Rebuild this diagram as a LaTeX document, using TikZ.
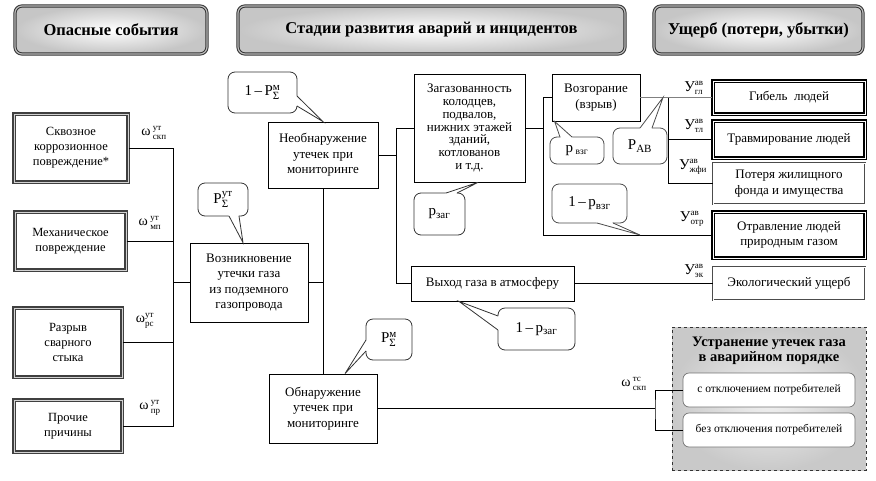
\documentclass[tikz,border=0pt]{standalone}
\usepackage{fontspec}
\setmainfont{Liberation Serif}
\usetikzlibrary{calc}
\newcommand{\supsub}[3][9]{\ensuremath{{}^{\mbox{\fontsize{#1}{#1}\selectfont #2}}_{\mbox{\fontsize{#1}{#1}\selectfont #3}}}}
\newcommand{\sbs}[2][11]{\ensuremath{{}_{\mbox{\fontsize{#1}{#1}\selectfont #2}}}}
\newcommand{\bubtip}[5][black!80]{%
  \fill[white] (#3) -- (#5) -- (#4) -- ($(#4)!1.6pt!(#2.center)$) -- ($(#3)!1.6pt!(#2.center)$) -- cycle;
  \draw[#1, line width=0.8pt] (#3) -- (#5) -- (#4);}
\tikzset{
  base/.style={align=center, inner sep=1pt, font=\fontsize{13}{15.5}\selectfont},
  pbox/.style={base, draw=black, line width=0.8pt, fill=white},
  lbox/.style={base, draw=black!75, line width=1.1pt, double=gray!35, double distance=1pt, fill=white, font=\fontsize{12.5}{15}\selectfont},
  hbox/.style={base, draw=black!80, line width=1pt, double=gray!55, double distance=1.2pt, rounded corners=7pt, inner color=white, outer color=gray!45, font=\fontsize{16.5}{19}\selectfont\bfseries},
  dthick/.style={base, draw=black, line width=1.6pt, double=white, double distance=0.9pt, fill=white},
  dthin/.style={base, draw=black!70, line width=0.9pt, double=white, double distance=0.9pt, fill=white},
  bub/.style={rounded corners=7pt, draw=black!80, line width=0.8pt, fill=white, inner sep=0pt, font=\fontsize{15}{18}\selectfont},
  gbub/.style={bub, draw=gray!60!black},
  lab/.style={inner sep=0pt, font=\fontsize{14}{15}\selectfont},
  ylab/.style={inner sep=0pt, font=\fontsize{15}{15}\selectfont},
  wire/.style={line width=0.8pt, draw=black},
  gwire/.style={line width=1pt, draw=black!50},
  sbox/.style={rounded corners=6pt, draw=black!55, line width=0.7pt, fill=white, minimum width=172pt, minimum height=34pt, font=\fontsize{11.5}{13}\selectfont},
}
\begin{document}
\begin{tikzpicture}[x=1pt,y=-1pt]
\useasboundingbox[fill=white] (0,0) rectangle (876,480);

% headers
\node[hbox, minimum width=192pt, minimum height=48pt] (h1) at (111,30) {Опасные события};
\node[hbox, minimum width=387pt, minimum height=48pt] (h2) at (431.5,30) {Стадии развития аварий и инцидентов};
\node[hbox, minimum width=209pt, minimum height=48pt] (h3) at (758.5,30) {Ущерб (потери, убытки)};

% coordinates of junctions
\coordinate (jl) at (173,282.5);
\coordinate (j2) at (396,155);
\coordinate (j3) at (543,128);
\coordinate (j4) at (668,97.5);
\coordinate (j5) at (655,408.5);

% left boxes
\node[lbox, minimum width=114pt, minimum height=68pt] (c1) at (71,148) {Сквозное\\коррозионное\\повреждение*};
\node[lbox, minimum width=111pt, minimum height=58pt] (c2) at (70.5,241) {Механическое\\повреждение};
\node[lbox, minimum width=108pt, minimum height=69pt] (c3) at (68,342.5) {Разрыв\\сварного\\стыка};
\node[lbox, minimum width=108pt, minimum height=52pt] (c4) at (68,426) {Прочие\\причины};

% middle boxes
\node[pbox, minimum width=118pt, minimum height=79pt] (vz) at (249,282.5) {Возникновение\\утечки газа\\из подземного\\газопровода};
\node[pbox, minimum width=110pt, minimum height=66pt] (nb) at (323,155) {Необнаружение\\утечек при\\мониторинге};
\node[pbox, minimum width=108pt, minimum height=69pt] (ob) at (323,408.5) {Обнаружение\\утечек при\\мониторинге};
\node[pbox, minimum width=111pt, minimum height=108pt, font=\fontsize{13}{12.8}\selectfont] (zg) at (469.5,128) {Загазованность\\колодцев,\\подвалов,\\нижних этажей\\зданий,\\котлованов\\и т.д.};
\node[pbox, minimum width=163pt, minimum height=35pt] (vx) at (492.5,283.5) {Выход газа в атмосферу};
\node[pbox, minimum width=88pt, minimum height=47pt] (vg) at (596,97.5) {Возгорание\\(взрыв)};

% damage boxes
\node[dthick, minimum width=152pt, minimum height=33pt] (gib) at (789,97.5) {Гибель\ \ людей};
\node[dthick, minimum width=152pt, minimum height=37pt] (trv) at (789,139.5) {Травмирование людей};
\node[dthin, minimum width=152pt, minimum height=41pt] (pot) at (789,183.5) {Потеря жилищного\\фонда и имущества};
\node[dthick, minimum width=152pt, minimum height=46pt] (otr) at (789,235) {Отравление людей\\природным газом};
\node[dthin, minimum width=152pt, minimum height=33pt] (eko) at (789,283.5) {Экологический ущерб};

% elimination group
\node[draw=black!80, dashed, line width=0.8pt, inner color=gray!10, outer color=gray!42, minimum width=194pt, minimum height=143pt] (grp) at (769,398.5) {};
\node[font=\fontsize{14.5}{15.5}\selectfont\bfseries, align=center, inner sep=0pt] (gt) at (769,351) {Устранение утечек газа\\в аварийном порядке};
\node[sbox] (s1) at (769,390) {с отключением потребителей};
\node[sbox] (s2) at (769,430) {без отключения потребителей};

% connectors
\draw[wire] (c1.east) -- (c1.east -| jl) -- (c4.east -| jl) -- (c4.east);
\draw[wire] (c2.east) -- (c2.east -| jl);
\draw[wire] (c3.east) -- (c3.east -| jl);
\draw[wire] (jl) -- (vz.west);
\draw[wire] (vz.east) -- (vz.east -| nb.south);
\draw[wire] (nb.south) -- (ob.north);
\draw[wire] (nb.east) -- (j2);
\draw[wire] (zg.west) -- (zg.west -| j2) -- (vx.west -| j2) -- (vx.west);
\draw[wire] (zg.east) -- (j3);
\draw[wire] (vg.west) -- (vg.west -| j3) -- (otr.west -| j3) -- (otr.west);
\draw[gwire] (vg.east) -- (gib.west);
\draw[wire] (j4) |- (pot.west);
\draw[wire] (j4 |- trv.west) -- (trv.west);
\draw[wire] (vx.east) -- (eko.west);
\draw[wire] (ob.east) -- (j5);
\draw[wire] (s1.west) -| (j5) |- (s2.west);

% labels
\node[lab] (w1) at (154,133) {ω\,\supsub{ут}{скп}};
\node[lab] (w2) at (150,223) {ω\,\supsub{ут}{мп}};
\node[lab] (w3) at (145,321) {ω\supsub{ут}{рс}};
\node[lab] (w4) at (150,408) {ω\,\supsub{ут}{пр}};
\node[lab] (w5) at (634,384) {ω\,\supsub{тс}{скп}};
\node[ylab] (y1) at (694,88) {У\supsub{ав}{гл}};
\node[ylab] (y2) at (694,126) {У\supsub{ав}{тл}};
\node[ylab] (y3) at (693,167) {У\supsub{ав}{жфи}};
\node[ylab] (y4) at (692,219) {У\supsub{ав}{отр}};
\node[ylab] (y5) at (694,271) {У\supsub{ав}{эк}};

% bubbles
\coordinate (tAB) at (663,97.5);
\coordinate (tOT) at (640,235);
\node[bub, minimum width=69pt, minimum height=41pt] (b1) at (262.5,92.5) {1\,–\,P\supsub[11]{м}{Σ}};
\bubtip{b1}{297,96}{297,106}{nb.north}
\node[bub, minimum width=50pt, minimum height=33pt] (b2) at (223,199.5) {P\supsub[11]{ут}{Σ}};
\bubtip{b2}{229,216}{239,216}{[xshift=-6pt]vz.north}
\node[bub, minimum width=46pt, minimum height=41pt] (b3) at (389,339.5) {P\supsub[11]{м}{Σ}};
\bubtip{b3}{366,340}{366,351}{[xshift=22pt]ob.north}
\node[bub, minimum width=51pt, minimum height=42pt] (b4) at (439.5,214) {p\sbs{заг}};
\bubtip{b4}{446,193}{457,193}{[xshift=8.5pt]zg.south}
\node[gbub, minimum width=54pt, minimum height=27pt] (b5) at (577,150.5) {p\,\sbs[9.5]{взг}};
\bubtip[gray!60!black]{b5}{560,137}{572,137}{[xshift=3pt]vg.south west}
\node[gbub, minimum width=54pt, minimum height=36pt] (b6) at (640,146) {P\sbs{АВ}};
\bubtip[gray!60!black]{b6}{640,128}{652,128}{tAB}
\node[gbub, minimum width=75pt, minimum height=39pt] (b7) at (589.5,203.5) {1\,–\,p\sbs{взг}};
\bubtip[gray!60!black]{b7}{597,223}{613,223}{tOT}
\node[bub, minimum width=77pt, minimum height=42pt] (b8) at (536.5,329) {1\,–\,p\sbs{заг}};
\bubtip{b8}{498,316}{498,330}{[xshift=-33.5pt]vx.south}
\end{tikzpicture}
\end{document}
